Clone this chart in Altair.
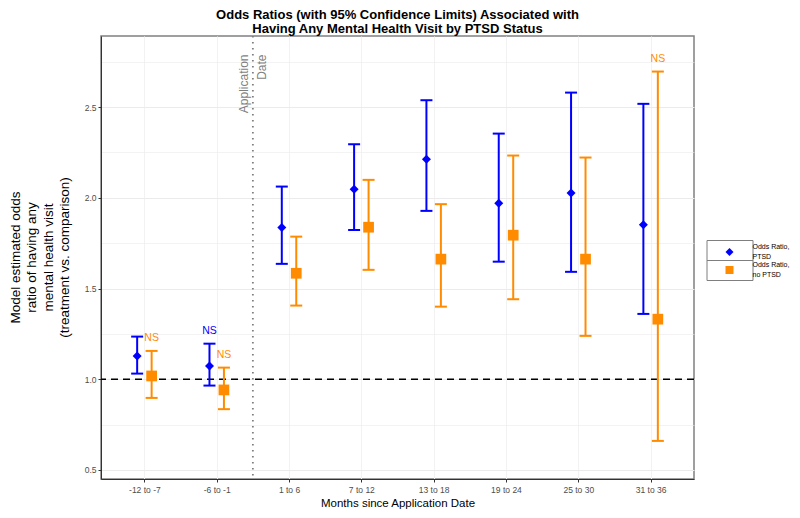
import altair as alt
import pandas as pd

periods = ["-12 to -7", "-6 to -1", "1 to 6", "7 to 12", "13 to 18", "19 to 24", "25 to 30", "31 to 36"]
ptsd_or = [1.128, 1.073, 1.836, 2.047, 2.213, 1.970, 2.027, 1.851]
ptsd_lo = [1.031, 0.965, 1.636, 1.823, 1.928, 1.648, 1.592, 1.360]
ptsd_hi = [1.235, 1.196, 2.062, 2.295, 2.538, 2.354, 2.580, 2.518]
ptsd_ns = ["", "NS", "", "", "", "", "", ""]
noptsd_or = [1.018, 0.941, 1.584, 1.838, 1.662, 1.794, 1.662, 1.331]
noptsd_lo = [0.897, 0.835, 1.406, 1.603, 1.400, 1.441, 1.239, 0.660]
noptsd_hi = [1.156, 1.064, 1.786, 2.099, 1.965, 2.233, 2.222, 2.696]
noptsd_ns = ["NS", "NS", "", "", "", "", "", "NS"]

series_names = ["Odds Ratio, PTSD", "Odds Ratio, no PTSD"]
series_colors = ["#0000FF", "#FF8C00"]
series_shapes = ["diamond", "square"]
series_sizes = [81, 115]
dodge = [-0.1, 0.1]
reference_value = [1.0]
application_pos = [1.5]
application_label = ["Application\nDate"]
application_label_y = [2.79]

rows = []
for i, p in enumerate(periods):
    for s, (orv, lo, hi, ns) in enumerate([(ptsd_or, ptsd_lo, ptsd_hi, ptsd_ns),
                                          (noptsd_or, noptsd_lo, noptsd_hi, noptsd_ns)]):
        rows.append({"idx": i, "period": p, "series": series_names[s], "off": dodge[s],
                     "orv": orv[i], "lo": lo[i], "hi": hi[i], "ns": ns[i]})
df = pd.DataFrame(rows)

FONT = "Liberation Sans"
xscale = alt.Scale(domain=[-0.6, 7.6], nice=False, zero=False)
yscale = alt.Scale(domain=[0.45, 2.892], nice=False, zero=False)
cscale = alt.Scale(domain=series_names, range=series_colors)
sscale = alt.Scale(domain=series_names, range=series_shapes)

label_expr = "[" + ",".join("'" + p + "'" for p in periods) + "][datum.value]"
yvals = [0.5 + 0.25 * k for k in range(10)]

x_axis = alt.Axis(values=list(range(len(periods))), labelExpr=label_expr,
                  title="Months since Application Date", grid=True,
                  gridColor="#F2F2F2", gridWidth=1,
                  labelFontSize=8.5, labelColor="#4D4D4D", labelPadding=3,
                  tickSize=3, tickColor="#333333", domainColor="#333333",
                  titleFontSize=11.5, titleFontWeight="normal", titleColor="#000000",
                  titleBaseline="middle", titleY=24)
y_axis = alt.Axis(values=yvals,
                  labelExpr="datum.value % 0.5 == 0 ? format(datum.value, '.1f') : ''",
                  tickOpacity={"condition": {"test": "datum.value % 0.5 != 0", "value": 0}, "value": 1},
                  gridWidth={"condition": {"test": "datum.value % 0.5 != 0", "value": 0.6}, "value": 1},
                  gridColor="#EBEBEB",
                  labelFontSize=8.5, labelColor="#4D4D4D", labelPadding=2,
                  tickSize=3, tickColor="#333333", domainColor="#333333",
                  title=["Model estimated odds", "ratio of having any", "mental health visit",
                         "(treatment vs. comparison)"],
                  titleFontSize=13.5, titleFontWeight="normal", titleColor="#000000",
                  titleLineHeight=16.5, titleAngle=270, titleAlign="center",
                  titleBaseline="bottom", titleX=-79, titleY=221)

base = alt.Chart(df).transform_calculate(xpos="datum.idx + datum.off")
X = alt.X("xpos:Q", scale=xscale, axis=x_axis)

hline = alt.Chart(pd.DataFrame({"ref": reference_value})).mark_rule(
    color="black", strokeDash=[7, 5], strokeWidth=1.6
).encode(y=alt.Y("ref:Q", scale=yscale, axis=y_axis))

vline = alt.Chart(pd.DataFrame({"app": application_pos})).mark_rule(
    color="#7F7F7F", strokeDash=[1.6, 4.4], strokeWidth=1.8
).encode(x=alt.X("app:Q", scale=xscale))

vtext = alt.Chart(pd.DataFrame({"app": application_pos, "lab": application_label,
                                "y": application_label_y})).mark_text(
    angle=270, align="right", baseline="middle", lineBreak="\n", fontSize=12,
    color="#7F7F7F", font=FONT, lineHeight=18, dy=-9
).encode(x=alt.X("app:Q", scale=xscale), y=alt.Y("y:Q", scale=yscale), text="lab:N")

series_layers = []
for s, name in enumerate(series_names):
    sub = base.transform_filter(alt.datum.series == name)
    col = series_colors[s]
    series_layers.append(sub.mark_rule(strokeWidth=2, color=col).encode(
        x=X, y=alt.Y("lo:Q", scale=yscale), y2="hi:Q"))
    series_layers.append(sub.mark_tick(orient="horizontal", size=12, thickness=2, opacity=1, color=col).encode(
        x=X, y=alt.Y("lo:Q", scale=yscale)))
    series_layers.append(sub.mark_tick(orient="horizontal", size=12, thickness=2, opacity=1, color=col).encode(
        x=X, y=alt.Y("hi:Q", scale=yscale)))

# legend key boxes (ggplot style): one frame symbol holding both key cells, no label
box_legend = base.transform_filter("false").mark_point(filled=True).encode(
    fill=alt.Fill("series:N", scale=alt.Scale(domain=[series_names[0]], range=["transparent"]),
                  legend=alt.Legend(title=None, orient="none", legendX=618.5, legendY=214,
                                    symbolType="M-2.3,-2H2.3V2H-2.3ZM-2.3,0H2.3",
                                    symbolSize=400,
                                    symbolStrokeColor="#7F7F7F", symbolStrokeWidth=1,
                                    symbolOpacity=1, labelExpr="''", rowPadding=0,
                                    padding=0, labelOffset=0))
)

points = base.mark_point(filled=True, opacity=1).encode(
    x=X, y=alt.Y("orv:Q", scale=yscale),
    color=alt.Color("series:N", scale=cscale,
                    legend=alt.Legend(title=None, orient="none", legendX=623.5, legendY=211,
                                      labelExpr="[slice(datum.label, 0, 11), slice(datum.label, 12)]",
                                      symbolSize=64, labelFontSize=7, labelFont=FONT,
                                      labelOffset=18, rowPadding=1, padding=0,
                                      labelBaseline="line-bottom",
                                      labelColor="#000000", symbolOpacity=1)),
    shape=alt.Shape("series:N", scale=sscale, legend=None),
    size=alt.condition(alt.datum.series == series_names[0], alt.value(series_sizes[0]),
                       alt.value(series_sizes[1])),
)

ns_layers = []
for s, name in enumerate(series_names):
    ns_layers.append(base.transform_filter(alt.datum.series == name).transform_filter("datum.ns != ''")
                     .mark_text(dy=-13, fontSize=10.5, font=FONT, baseline="middle", color=series_colors[s])
                     .encode(x=X, y=alt.Y("hi:Q", scale=yscale), text="ns:N"))

chart = alt.layer(hline, vline, vtext, *series_layers, box_legend, points, *ns_layers).properties(
    width=593, height=443,
    title=alt.TitleParams(["Odds Ratios (with 95% Confidence Limits) Associated with",
                           "Having Any Mental Health Visit by PTSD Status"],
                          fontSize=13, fontWeight="bold", font=FONT, anchor="middle",
                          lineHeight=14, offset=-1, color="#000000"),
    autosize=alt.AutoSizeParams(type="none"),
    padding={"left": 93, "top": 28, "right": 98, "bottom": 31},
).configure(font=FONT, style={"guide-label": {"lineHeight": 9.5}}).configure_view(
    stroke="#808080", strokeWidth=1.5).configure_axis(labelFont=FONT, titleFont=FONT)

chart.save("out.html", embed_options={"renderer": "svg", "actions": False})
